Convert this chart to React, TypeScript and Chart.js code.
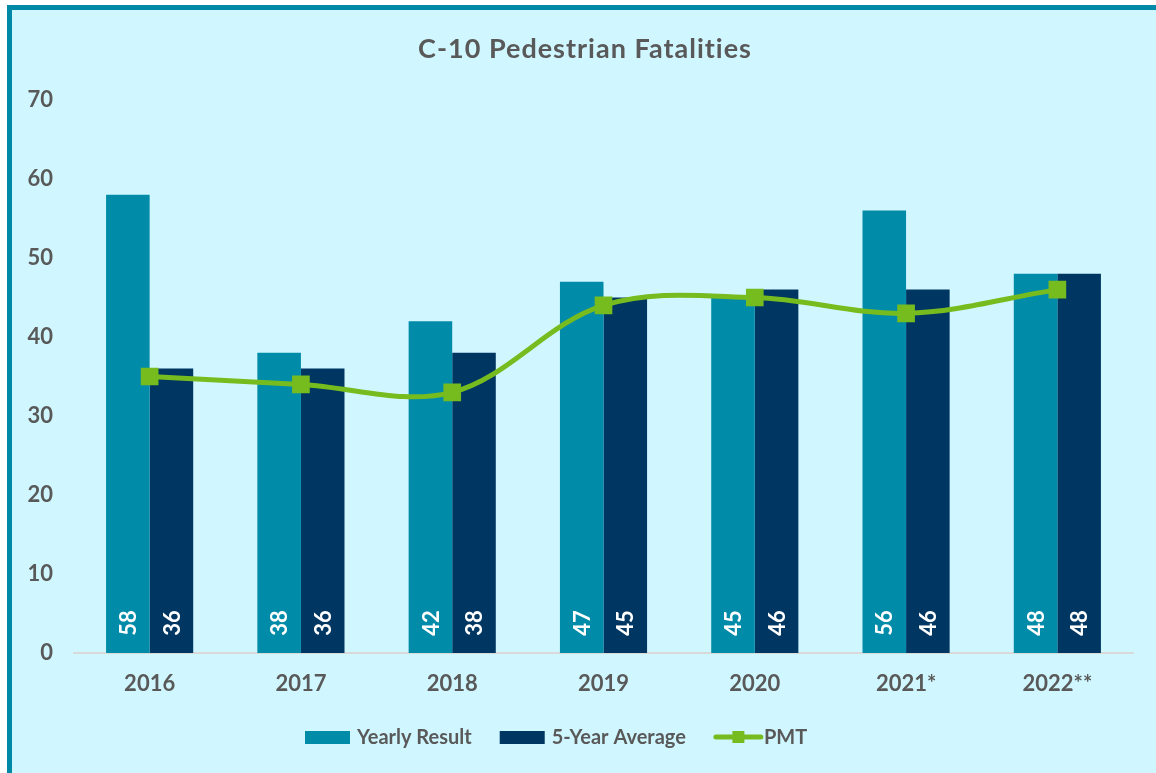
import React, { useEffect, useRef } from "react";
import { Chart, registerables } from "chart.js";

Chart.register(...registerables);

const chartTitle = "C-10 Pedestrian Fatalities";
const categories = ["2016", "2017", "2018", "2019", "2020", "2021*", "2022**"];
const yearlyResult = [58, 38, 42, 47, 45, 56, 48];
const fiveYearAverage = [36, 36, 38, 45, 46, 46, 48];
const pmt = [35, 34, 33, 44, 45, 43, 46];
const seriesNames = ["Yearly Result", "5-Year Average", "PMT"];
const yMin = 0;
const yMax = 70;
const yStep = 10;

const TEAL = "#008BA8";
const NAVY = "#003662";
const GREEN = "#77BC1F";
const GRAY = "#595959";
const BG = "#D0F7FF";
const FONT = "Lato, 'Open Sans', sans-serif";

const customPlugin = {
  id: "custom",
  afterDatasetsDraw(chart: any) {
    const ctx = chart.ctx;
    const area = chart.chartArea;
    ctx.save();
    ctx.fillStyle = "#FFFFFF";
    ctx.font = `bold 22px ${FONT}`;
    ctx.textAlign = "center";
    ctx.textBaseline = "middle";
    chart.data.datasets.forEach((ds: any, di: number) => {
      if (ds.type !== "bar") return;
      const meta = chart.getDatasetMeta(di);
      meta.data.forEach((bar: any, i: number) => {
        ctx.save();
        ctx.translate(bar.x + 1, area.bottom - 30);
        ctx.rotate(-Math.PI / 2);
        ctx.fillText(String(ds.data[i]), 0, 0);
        ctx.restore();
      });
    });
    ctx.restore();
  },
  afterDraw(chart: any) {
    const ctx = chart.ctx;
    const w = chart.width;
    ctx.save();
    // title
    ctx.fillStyle = GRAY;
    ctx.font = `bold 27px ${FONT}`;
    (ctx as any).letterSpacing = "1px";
    ctx.textAlign = "center";
    ctx.textBaseline = "middle";
    ctx.fillText(chartTitle, w / 2 + 1, 39);
    (ctx as any).letterSpacing = "0px";

    // legend
    ctx.font = `bold 20px ${FONT}`;
    ctx.textAlign = "left";
    let x = 293;
    const cy = 728;
    const items = [
      { name: seriesNames[0], kind: "bar", color: TEAL },
      { name: seriesNames[1], kind: "bar", color: NAVY },
      { name: seriesNames[2], kind: "line", color: GREEN },
    ];
    items.forEach((it) => {
      if (it.kind === "bar") {
        ctx.fillStyle = it.color;
        ctx.fillRect(x, cy - 7, 45, 13);
        x += 45 + 7;
      } else {
        ctx.strokeStyle = it.color;
        ctx.lineWidth = 5;
        ctx.lineCap = "round";
        ctx.beginPath();
        ctx.moveTo(x + 2, cy - 1);
        ctx.lineTo(x + 47, cy - 1);
        ctx.stroke();
        ctx.fillStyle = it.color;
        ctx.fillRect(x + 24.5 - 6, cy - 7, 12, 12);
        x += 49 + 1;
      }
      ctx.fillStyle = GRAY;
      ctx.fillText(it.name, x, cy);
      x += ctx.measureText(it.name).width + 28;
    });
    ctx.restore();
  },
};

export default function App() {
  const ref = useRef<HTMLCanvasElement>(null);
  useEffect(() => {
    document.body.style.margin = "0";
    if (!ref.current) return;
    const chart = new Chart(ref.current, {
      type: "bar",
      data: {
        labels: categories,
        datasets: [
          {
            type: "line",
            label: seriesNames[2],
            data: pmt,
            borderColor: GREEN,
            backgroundColor: GREEN,
            borderWidth: 5,
            pointStyle: "rect",
            pointRadius: 12.5,
            pointHoverRadius: 12.5,
            pointBackgroundColor: GREEN,
            pointBorderWidth: 0,
            tension: 0.35,
            order: 0,
          } as any,
          {
            type: "bar",
            label: seriesNames[0],
            data: yearlyResult,
            backgroundColor: TEAL,
            categoryPercentage: 0.576,
            barPercentage: 1,
            order: 1,
          },
          {
            type: "bar",
            label: seriesNames[1],
            data: fiveYearAverage,
            backgroundColor: NAVY,
            categoryPercentage: 0.576,
            barPercentage: 1,
            order: 2,
          },
        ],
      },
      options: {
        responsive: false,
        animation: false,
        layout: { padding: { left: 12, right: 23, top: 90, bottom: 70 } },
        plugins: {
          legend: { display: false },
          title: { display: false },
          tooltip: { enabled: false },
        },
        scales: {
          x: {
            grid: { display: false, drawTicks: false },
            border: { display: true, color: "#D9D9D9", width: 2 },
            ticks: {
              color: GRAY,
              font: { family: FONT, size: 22, weight: "bold" },
              padding: 18,
            },
            afterFit: (s: any) => {
              s.height = 50;
            },
          },
          y: {
            min: yMin,
            max: yMax,
            grid: { display: false, drawTicks: false },
            border: { display: false },
            ticks: {
              stepSize: yStep,
              color: GRAY,
              font: { family: FONT, size: 22, weight: "bold" },
              padding: 21,
            },
            afterFit: (s: any) => {
              s.width = 50;
            },
          },
        },
      },
      plugins: [customPlugin],
    });
    return () => chart.destroy();
  }, []);

  return (
    <div
      style={{
        position: "absolute",
        left: 7,
        top: 5,
        width: 1149,
        height: 768,
        boxSizing: "border-box",
        borderLeft: "5px solid #0089A7",
        borderTop: "5px solid #0089A7",
        background: BG,
        overflow: "hidden",
      }}
    >
      <canvas ref={ref} width={1144} height={763} style={{ display: "block" }} />
    </div>
  );
}
